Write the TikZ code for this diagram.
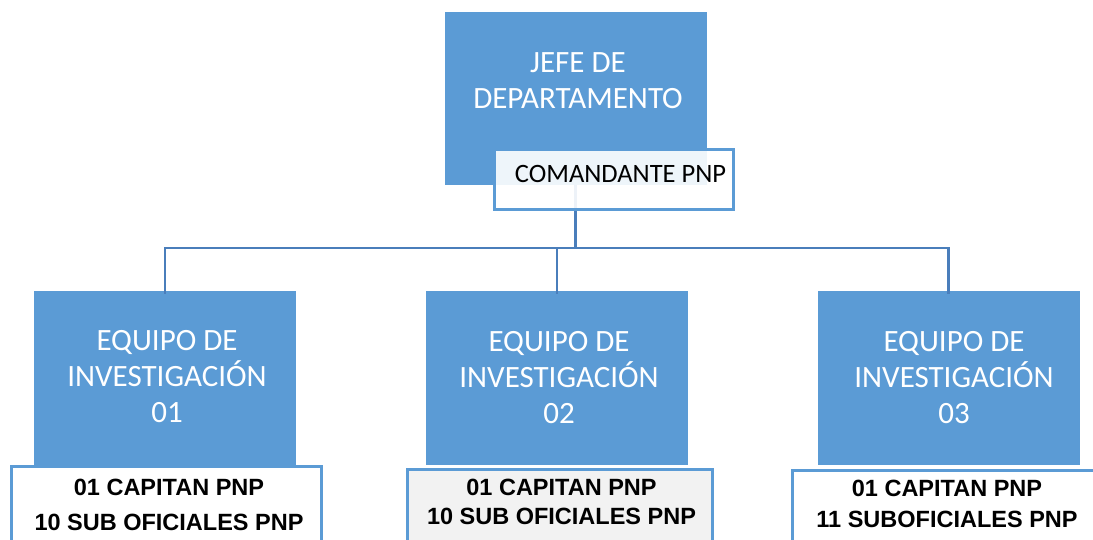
\documentclass[tikz,border=0pt]{standalone}
\usepackage{fontspec}
\setmainfont{Carlito}
\newfontfamily\rankfont{Liberation Sans}
\definecolor{boxblue}{HTML}{5B9BD5}
\definecolor{linkblue}{HTML}{4A7EBB}
\definecolor{palegray}{HTML}{F2F2F2}

\begin{document}
\begin{tikzpicture}[x=1pt, y=-1pt,
	unit/.style={fill=boxblue, minimum width=262pt, minimum height=174pt, inner sep=0pt},
	ttl/.style={text=white, font=\fontsize{31}{36}\selectfont, align=center},
	rank/.style={draw=boxblue, line width=3pt, fill=white, inner sep=0pt},
	staff/.style={font=\rankfont\bfseries\fontsize{23.5}{#1}\selectfont, align=center},
	staff/.default=34,
	link/.style={draw=linkblue, line width=2.5pt}]
	\useasboundingbox (0,0) rectangle (1093,540);
	\clip (0,0) rectangle (1093,540);

	\node[unit, minimum height=173pt] (jefe) at (575.5,98.5) {};
	\node[unit] (eq1) at (165,378) {};
	\node[unit] (eq2) at (557,378) {};
	\node[unit] (eq3) at (948.5,378) {};

	\draw[link] (jefe.south) -- ++(0,63) coordinate (bus) -| ([yshift=-3pt]eq1.north);
	\draw[link] (bus) -| ([yshift=-3pt]eq2.north);
	\draw[link] (bus) -| ([yshift=-3pt]eq3.north);

	\node[rank, fill opacity=0.9, minimum width=239pt, minimum height=60pt] (cmd) at (614,179.5) {};
	\node[rank, minimum width=310pt, minimum height=140pt] (r1) at (166.5,536.5) {};
	\node[rank, fill=palegray, minimum width=305pt, minimum height=140pt] (r2) at (560,539.5) {};
	\node[rank, minimum width=320pt, minimum height=140pt] (r3) at (952.5,540.5) {};

	\node[ttl] (jefet) at (578,80.5) {JEFE DE\\DEPARTAMENTO};
	\node[font=\fontsize{26.5}{30}\selectfont] (cmdt) at (620.5,174) {COMANDANTE PNP};
	\node[ttl] (eq1t) at (167,377) {EQUIPO DE\\INVESTIGACIÓN\\01};
	\node[ttl] (eq2t) at (559,378) {EQUIPO DE\\INVESTIGACIÓN\\02};
	\node[ttl] (eq3t) at (954,378) {EQUIPO DE\\INVESTIGACIÓN\\03};

	\node[staff=35] (r1t) at (169,504.5) {01 CAPITAN PNP\\10 SUB OFICIALES PNP};
	\node[staff=29] (r2t) at (561.5,501.5) {01 CAPITAN PNP\\10 SUB OFICIALES PNP};
	\node[staff=31] (r3t) at (947,503.5) {01 CAPITAN PNP\\11 SUBOFICIALES PNP};
\end{tikzpicture}
\end{document}
